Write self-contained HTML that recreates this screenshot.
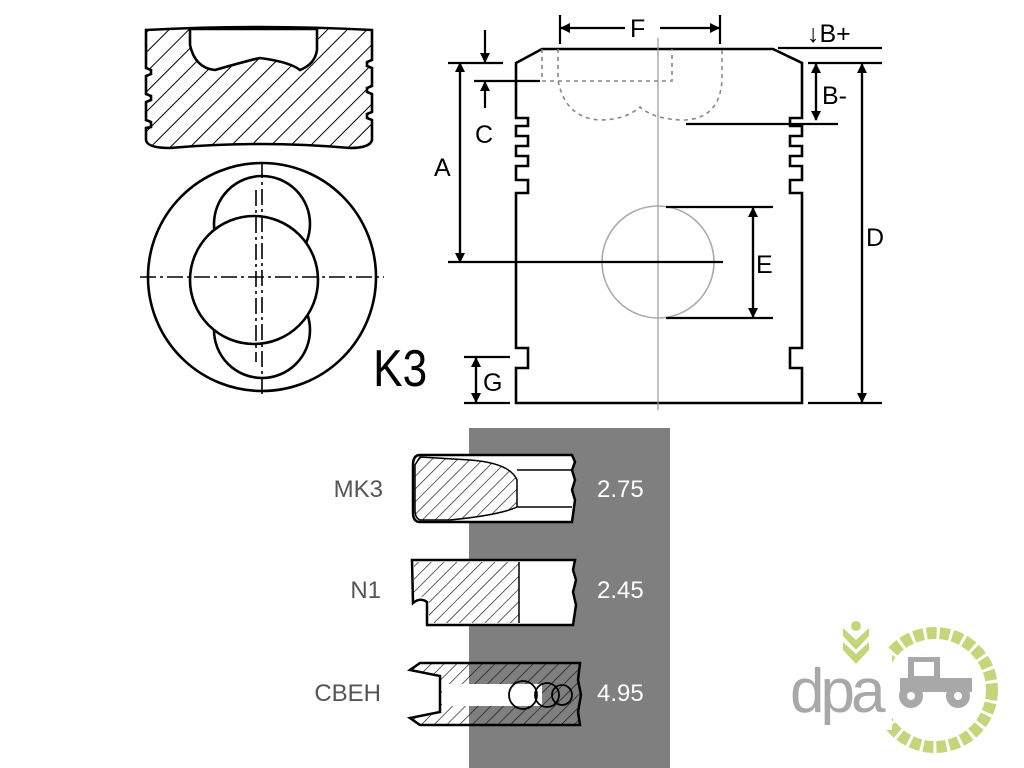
<!DOCTYPE html>
<html><head><style>html,body{margin:0;padding:0;background:#fff;}svg{display:block}</style></head>
<body>
<svg width="1024" height="768" viewBox="0 0 1024 768" xmlns="http://www.w3.org/2000/svg" font-family="Liberation Sans, sans-serif">
<defs>
<pattern id="h" width="14" height="14" patternUnits="userSpaceOnUse" patternTransform="rotate(45)">
<line x1="0" y1="0" x2="0" y2="14" stroke="#000" stroke-width="2"/></pattern>
<pattern id="h2" width="9" height="9" patternUnits="userSpaceOnUse" patternTransform="rotate(45)">
<line x1="0" y1="0" x2="0" y2="9" stroke="#111" stroke-width="1.3"/></pattern>
<marker id="a" markerWidth="10" markerHeight="12" refX="9" refY="6" orient="auto" markerUnits="userSpaceOnUse"><path d="M0,1 L10,6 L0,11 z" fill="#000"/></marker>
</defs>
<g stroke="#000" stroke-width="2.6" fill="none">
<!-- top-left section -->
<path d="M146,30 Q260,24 372,30 L372,60 L367,62 L367,66 L372,68 L372,86 L367,88 L367,92 L372,94 L372,112 L367,114 L367,118 L372,120 L372,140 Q370,148 350,148 Q260,140 170,148 Q147,148 146,140 L146,128 L151,127 L151,122 L146,120 L146,102 L151,100 L151,96 L146,94 L146,76 L151,74 L151,70 L146,68 Z" fill="url(#h)"/>
<path d="M190,29 L190,45 Q195,68 215,70 Q250,60 260,58 Q290,62 300,70 Q315,64 317,50 L317,29 Z" fill="#fff"/>
<!-- circle view -->
<circle cx="262" cy="277" r="114"/>
<circle cx="262" cy="224" r="48" fill="#fff"/>
<circle cx="262" cy="330" r="48" fill="#fff"/>
<circle cx="254" cy="280" r="64" fill="#fff"/>
<g stroke-width="1.6" stroke-dasharray="16,4,3,4"><line x1="140" y1="277" x2="384" y2="277"/><line x1="262" y1="162" x2="262" y2="396"/><line x1="256" y1="190" x2="256" y2="362"/></g>
<!-- right piston -->
<path d="M542,49 L773,49 L802,63 L802,118 L790,118 L790,126 L802,126 L802,136 L790,136 L790,146 L802,146 L802,156 L790,156 L790,166 L802,166 L802,180 L790,180 L790,193 L802,193 L802,348 L790,348 L790,368 L802,368 L802,403 L516,403 L516,368 L528,368 L528,348 L516,348 L516,193 L528,193 L528,180 L516,180 L516,166 L528,166 L528,156 L516,156 L516,146 L528,146 L528,136 L516,136 L516,126 L528,126 L528,118 L516,118 L516,63 Z"/>
</g>
<line x1="658" y1="38" x2="658" y2="410" stroke="#999" stroke-width="1.2"/>
<circle cx="658" cy="262" r="56" fill="none" stroke="#aaa" stroke-width="1.6"/>
<g fill="none" stroke="#888" stroke-width="1.6" stroke-dasharray="4,4">
<path d="M542,49 L542,81 L672,81 L672,49"/>
<path d="M558,49 L558,80 Q565,118 600,120 Q625,120 640,107 Q655,120 685,120 Q720,118 722,80 L722,49"/>
</g>
<g stroke="#000" stroke-width="2.2" fill="none">
<line x1="448" y1="63" x2="503" y2="63"/><line x1="448" y1="262" x2="723" y2="262"/>
<line x1="460" y1="63" x2="460" y2="262" marker-end="url(#a)"/><line x1="460" y1="262" x2="460" y2="63" marker-end="url(#a)"/>
<line x1="474" y1="81" x2="540" y2="81"/>
<line x1="485" y1="30" x2="485" y2="62" marker-end="url(#a)"/>
<line x1="485" y1="108" x2="485" y2="82" marker-end="url(#a)"/>
<line x1="560" y1="15" x2="560" y2="44"/><line x1="720" y1="15" x2="720" y2="44"/>
<line x1="625" y1="28" x2="561" y2="28" marker-end="url(#a)"/><line x1="660" y1="28" x2="719" y2="28" marker-end="url(#a)"/>
<line x1="778" y1="48" x2="882" y2="48"/><line x1="808" y1="63" x2="882" y2="63"/>
<line x1="816" y1="64" x2="816" y2="120" marker-end="url(#a)"/><line x1="816" y1="120" x2="816" y2="64" marker-end="url(#a)"/>
<line x1="686" y1="124" x2="838" y2="124"/>
<line x1="862" y1="64" x2="862" y2="402" marker-end="url(#a)"/><line x1="862" y1="402" x2="862" y2="64" marker-end="url(#a)"/>
<line x1="808" y1="403" x2="882" y2="403"/>
<line x1="666" y1="207" x2="773" y2="207"/><line x1="666" y1="318" x2="773" y2="318"/>
<line x1="753" y1="208" x2="753" y2="317" marker-end="url(#a)"/><line x1="753" y1="317" x2="753" y2="208" marker-end="url(#a)"/>
<line x1="464" y1="357" x2="510" y2="357"/><line x1="464" y1="403" x2="510" y2="403"/>
<line x1="476" y1="358" x2="476" y2="402" marker-end="url(#a)"/><line x1="476" y1="402" x2="476" y2="358" marker-end="url(#a)"/>
</g>
<g font-size="25" fill="#000">
<text x="434" y="176">A</text><text x="475" y="143">C</text><text x="630" y="37">F</text>
<text x="807" y="42">↓B+</text><text x="822" y="104">B-</text><text x="866" y="246">D</text>
<text x="756" y="273">E</text><text x="483" y="391">G</text>
</g>
<text x="373" y="386" font-size="52" fill="#000" transform="scale(0.85,1) translate(66,0)">K3</text>
<!-- rings panel -->
<rect x="469" y="428" width="201" height="340" fill="#7f7f7f"/>
<g stroke="#000" stroke-width="2.5">
<path d="M420,455 L572,455 L575,462 L572,470 L575,480 L572,490 L575,500 L572,522 L420,522 Q413,522 413,512 L413,465 Q413,455 420,455 Z" fill="#fff"/>
<path d="M420,457 L470,460 Q510,463 517,480 L517,507 Q500,515 450,520 L420,520 Q415,518 415,510 L415,465 Z" fill="url(#h2)" stroke-width="1.5"/>
<path d="M517,470 L572,470 M517,507 L572,507" stroke-width="1.5"/>
<path d="M412,560 L575,560 L573,570 L576,580 L573,592 L576,605 L573,625 L427,625 L427,602 Q420,597 413,603 Z" fill="#fff"/>
<path d="M414,562 L519,562 L519,623 L429,623 L429,600 Q420,594 414,598 Z" fill="url(#h2)" stroke="none"/>
<line x1="519" y1="562" x2="519" y2="623" stroke-width="1.5"/>
<path d="M420,663 L580,663 L578,680 L581,695 L578,712 L580,725 L420,725 L410,718 L440,712 L440,676 L410,670 Z" fill="url(#h2)"/>
<rect x="442" y="684" width="100" height="22" fill="#fff" stroke="none"/>
<g fill="none" stroke-width="1.8"><circle cx="523" cy="695" r="14"/><circle cx="547" cy="695" r="12"/><circle cx="562" cy="695" r="10"/></g>
</g>
<g font-size="24" fill="#555" text-anchor="end">
<text x="383" y="497">MK3</text><text x="381" y="598">N1</text><text x="381" y="701">CBEH</text>
</g>
<g font-size="24" fill="#fff"><text x="597" y="497">2.75</text><text x="597" y="598">2.45</text><text x="597" y="701">4.95</text></g>
<!-- logo -->
<circle cx="935" cy="690" r="57" fill="none" stroke="#c5d67a" stroke-width="12" stroke-dasharray="10,3"/>
<rect x="870" y="650" width="22" height="80" fill="#fff"/>
<g fill="#c5d67a"><path d="M843,628 L856,640 L869,628 L869,636 L856,650 L843,636 Z"/><path d="M843,642 L856,654 L869,642 L869,650 L856,664 L843,650 Z"/><circle cx="856" cy="626" r="5"/></g>
<text x="790" y="712" font-size="62" fill="#a8a8a8" letter-spacing="-4">dpa</text>
<g fill="#a8a8a8"><rect x="908" y="657" width="32" height="24"/><rect x="900" y="678" width="72" height="14"/><circle cx="911" cy="696" r="12"/><circle cx="958" cy="696" r="12"/></g>
<g fill="#fff"><rect x="914" y="662" width="20" height="14"/><circle cx="911" cy="696" r="4"/><circle cx="958" cy="696" r="4"/></g>
</svg>
</body></html>
